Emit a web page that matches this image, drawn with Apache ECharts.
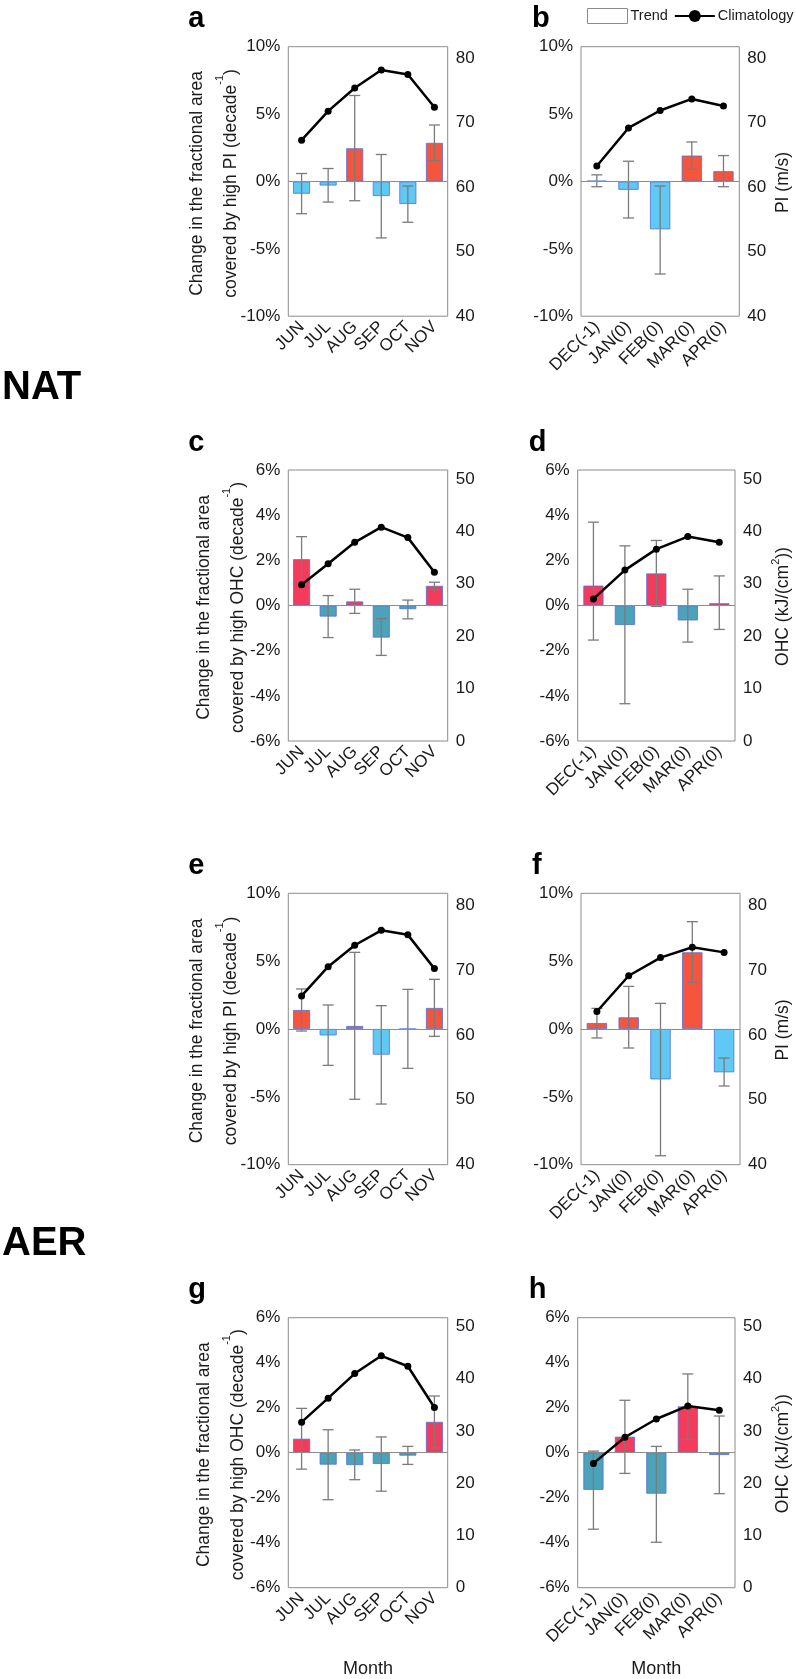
<!DOCTYPE html>
<html><head><meta charset="utf-8">
<script src="https://cdn.jsdelivr.net/npm/echarts@6/dist/echarts.min.js"></script>
<style>html,body{margin:0;padding:0;background:#fff}#c{width:796px;height:1679px}</style>
</head><body><div id="c"></div>
<script>
// ---------- categories ----------
const monthsSummer = ['JUN', 'JUL', 'AUG', 'SEP', 'OCT', 'NOV'];
const monthsWinter = ['DEC(-1)', 'JAN(0)', 'FEB(0)', 'MAR(0)', 'APR(0)'];

// ---------- tick labels ----------
const piTrendTicks = [-10, -5, 0, 5, 10];
const ohcTrendTicks = [-6, -4, -2, 0, 2, 4, 6];
const piClimTicks = [40, 50, 60, 70, 80];
const ohcClimTicks = [0, 10, 20, 30, 40, 50];

// ---------- panel a (NAT, PI, JUN-NOV) ----------
const trendA = [-0.91, -0.30, 2.46, -1.08, -1.67, 2.86];
const lowA   = [-2.39, -1.53, -1.43, -4.19, -3.03, 1.55];
const highA  = [0.59, 0.96, 6.38, 2.00, -0.34, 4.19];
const climA  = [67.3, 71.8, 75.4, 78.2, 77.5, 72.4];
// ---------- panel b (NAT, PI, DEC-APR) ----------
const trendB = [0.05, -0.62, -3.55, 1.92, 0.76];
const lowB   = [-0.39, -2.71, -6.87, 0.91, -0.39];
const highB  = [0.49, 1.50, -0.34, 2.93, 1.92];
const climB  = [63.3, 69.2, 71.9, 73.7, 72.6];
// ---------- panel c (NAT, OHC, JUN-NOV) ----------
const trendC = [2.05, -0.49, 0.18, -1.42, -0.16, 0.87];
const lowC   = [1.05, -1.42, -0.35, -2.21, -0.59, 0.69];
const highC  = [3.05, 0.44, 0.72, -0.58, 0.24, 1.03];
const climC  = [29.8, 33.8, 37.9, 40.8, 38.8, 32.2];
// ---------- panel d (NAT, OHC, DEC-APR) ----------
const trendD = [0.88, -0.86, 1.42, -0.66, 0.10];
const lowD   = [-1.53, -4.35, -0.04, -1.62, -1.06];
const highD  = [3.69, 2.64, 2.88, 0.72, 1.31];
const climD  = [27.1, 32.6, 36.6, 39.0, 37.9];
// ---------- panel e (AER, PI, JUN-NOV) ----------
const trendE = [1.40, -0.47, 0.22, -1.89, 0.00, 1.55];
const lowE   = [-0.15, -2.68, -5.18, -5.53, -2.90, -0.54];
const highE  = [2.95, 1.77, 5.65, 1.72, 2.92, 3.66];
const climE  = [66.0, 70.5, 73.8, 76.1, 75.4, 70.2];
// ---------- panel f (AER, PI, DEC-APR) ----------
const trendF = [0.44, 0.86, -3.71, 5.65, -3.19];
const lowF   = [-0.66, -1.40, -9.34, 3.44, -4.20];
const highF  = [1.52, 3.14, 1.89, 7.91, -2.14];
const climF  = [63.6, 69.1, 71.9, 73.5, 72.7];
// ---------- panel g (AER, OHC, JUN-NOV) ----------
const trendG = [0.62, -0.53, -0.55, -0.50, -0.13, 1.37];
const lowG   = [-0.73, -2.09, -1.20, -1.71, -0.52, 0.22];
const highG  = [1.97, 1.02, 0.12, 0.70, 0.28, 2.52];
const climG  = [31.7, 36.3, 41.0, 44.4, 42.4, 34.5];
// ---------- panel h (AER, OHC, DEC-APR) ----------
const trendH = [-1.65, 0.71, -1.82, 2.06, -0.10];
const lowH   = [-3.40, -0.92, -3.98, 0.59, -1.82];
const highH  = [0.07, 2.33, 0.28, 3.50, 1.63];
const climH  = [23.8, 28.8, 32.3, 34.8, 34.0];

// ---------- styling / layout ----------
const FONT = "'Liberation Sans',Arial,sans-serif";
const TXT = '#1a1a1a';
const FRAME = '#8c8c8c';
const styles = {
  PI:  {pos: '#F5553D', posB: '#B8402E', neg: '#5FC8F3', negB: '#3A8DB3',
        lmin: -10, lmax: 10, lint: 5, rmin: 40, rmax: 81.8, ticksL: piTrendTicks, ticksR: piClimTicks},
  OHC: {pos: '#F53B5C', posB: '#B52B45', neg: '#4CA2B8', negB: '#2F7286',
        lmin: -6, lmax: 6, lint: 2, rmin: 0, rmax: 51.7, ticksL: ohcTrendTicks, ticksR: ohcClimTicks}
};
const panels = [
  {id:'a', cats: monthsSummer, trend: trendA, low: lowA, high: highA, clim: climA, kind:'PI',  grid:{left:288.3, top:46.7,  width:159.4, height:269.5}},
  {id:'b', cats: monthsWinter, trend: trendB, low: lowB, high: highB, clim: climB, kind:'PI',  grid:{left:581,   top:46.7,  width:158.3, height:269.5}},
  {id:'c', cats: monthsSummer, trend: trendC, low: lowC, high: highC, clim: climC, kind:'OHC', grid:{left:288.3, top:470,   width:159.4, height:271}},
  {id:'d', cats: monthsWinter, trend: trendD, low: lowD, high: highD, clim: climD, kind:'OHC', grid:{left:577.7, top:470,   width:157.3, height:271}},
  {id:'e', cats: monthsSummer, trend: trendE, low: lowE, high: highE, clim: climE, kind:'PI',  grid:{left:288.3, top:893.3, width:159.4, height:271.4}},
  {id:'f', cats: monthsWinter, trend: trendF, low: lowF, high: highF, clim: climF, kind:'PI',  grid:{left:581,   top:893.3, width:159,   height:271.4}},
  {id:'g', cats: monthsSummer, trend: trendG, low: lowG, high: highG, clim: climG, kind:'OHC', grid:{left:288.3, top:1317.7,width:159.4, height:270}, xname:'Month'},
  {id:'h', cats: monthsWinter, trend: trendH, low: lowH, high: highH, clim: climH, kind:'OHC', grid:{left:577.7, top:1317.7,width:157.3, height:270}, xname:'Month'}
];

const grid = [], xAxis = [], yAxis = [], series = [], graphic = [];

panels.forEach((p, i) => {
  const st = styles[p.kind];
  grid.push(Object.assign({show: true, borderColor: FRAME, borderWidth: 1, backgroundColor: 'transparent', containLabel: false, outerBoundsMode: 'none'}, p.grid));
  xAxis.push({
    type: 'category', gridIndex: i, data: p.cats, boundaryGap: true,
    axisLine: {show: false}, axisTick: {show: false}, splitLine: {show: false},
    axisLabel: {rotate: 45, interval: 0, margin: 8, color: TXT, fontFamily: FONT, fontSize: 17},
    name: p.xname || '', nameLocation: 'middle', nameGap: 72,
    nameTextStyle: {color: TXT, fontFamily: FONT, fontSize: 18}
  });
  yAxis.push({
    type: 'value', gridIndex: i, min: st.lmin, max: st.lmax, interval: st.lint,
    axisLine: {show: false}, axisTick: {show: false}, splitLine: {show: false},
    axisLabel: {margin: 8, color: TXT, fontFamily: FONT, fontSize: 17,
      formatter: v => st.ticksL.includes(v) ? v + '%' : ''}
  });
  yAxis.push({
    type: 'value', gridIndex: i, position: 'right', min: st.rmin, max: st.rmax, interval: 10,
    axisLine: {show: false}, axisTick: {show: false}, splitLine: {show: false},
    axisLabel: {margin: 8, color: TXT, fontFamily: FONT, fontSize: 17,
      formatter: v => st.ticksR.includes(Math.round(v * 1000) / 1000) ? String(v) : ''}
  });
  series.push({
    name: 'Trend', type: 'bar', xAxisIndex: i, yAxisIndex: 2 * i, data: p.trend,
    barWidth: '64%', z: 2,
    itemStyle: {
      color: prm => prm.value >= 0 ? st.pos : st.neg,
      borderColor: prm => prm.value >= 0 ? st.posB : st.negB,
      borderWidth: 0.8
    },
    markLine: {silent: true, symbol: 'none', label: {show: false}, animation: false,
      lineStyle: {color: FRAME, width: 1.2, type: 'solid'}, data: [{yAxis: 0}]}
  });
  series.push({
    name: 'err' + p.id, type: 'custom', xAxisIndex: i, yAxisIndex: 2 * i, z: 3,
    data: p.cats.map((c, j) => [j, p.low[j], p.high[j]]),
    encode: {x: 0, y: [1, 2]},
    renderItem: (params, api) => {
      const x = api.value(0);
      const lo = api.coord([x, api.value(1)]);
      const hi = api.coord([x, api.value(2)]);
      const w = 5.5;
      const ls = {stroke: '#7b7b7b', lineWidth: 1.3};
      return {type: 'group', children: [
        {type: 'line', shape: {x1: lo[0], y1: lo[1], x2: hi[0], y2: hi[1]}, style: ls},
        {type: 'line', shape: {x1: lo[0] - w, y1: lo[1], x2: lo[0] + w, y2: lo[1]}, style: ls},
        {type: 'line', shape: {x1: hi[0] - w, y1: hi[1], x2: hi[0] + w, y2: hi[1]}, style: ls}
      ]};
    }
  });
  series.push({
    name: 'Climatology', type: 'line', xAxisIndex: i, yAxisIndex: 2 * i + 1, data: p.clim, z: 5,
    symbol: 'circle', symbolSize: 7, color: '#000',
    lineStyle: {color: '#000', width: 2.5}, itemStyle: {color: '#000'}
  });
  // panel letter
  const lx = (i % 2 === 0) ? p.grid.left - 100 : p.grid.left - 49;
  graphic.push({type: 'text', x: lx, y: p.grid.top - 13,
    style: {text: p.id, font: "bold 29px " + FONT, fill: '#000', align: 'left', verticalAlign: 'bottom'}});
  const cy = p.grid.top + p.grid.height / 2;
  if (i % 2 === 0) {
    const what = p.kind === 'PI' ? 'PI' : 'OHC';
    graphic.push({type: 'text', x: p.kind === 'PI' ? 214 : 221, y: cy + 2, rotation: Math.PI / 2,
      style: {text: '{n|Change in the fractional area}\n{n|covered by high ' + what + ' (decade}{s|-1}{n|)}',
        align: 'center', verticalAlign: 'middle', fill: TXT,
        rich: {n: {fontFamily: FONT, fontSize: 17.5, lineHeight: 34, fill: TXT},
               s: {fontFamily: FONT, fontSize: 11, lineHeight: 20, verticalAlign: 'top', fill: TXT}}}});
  } else {
    const txt = p.kind === 'PI' ? '{n|PI (m/s)}' : '{n|OHC (kJ/(cm}{s|2}{n|))}';
    graphic.push({type: 'text', x: 783, y: cy + 1, rotation: Math.PI / 2,
      style: {text: txt, align: 'center', verticalAlign: 'middle', fill: TXT,
        rich: {n: {fontFamily: FONT, fontSize: 17.5, lineHeight: 26, fill: TXT},
               s: {fontFamily: FONT, fontSize: 11, lineHeight: 16, verticalAlign: 'top', fill: TXT}}}});
  }
});

graphic.push({type: 'text', x: 2, y: 388, style: {text: 'NAT', font: "bold 40px " + FONT, fill: '#000', align: 'left', verticalAlign: 'middle'}});
graphic.push({type: 'text', x: 2, y: 1244, style: {text: 'AER', font: "bold 40px " + FONT, fill: '#000', align: 'left', verticalAlign: 'middle'}});

const chart = echarts.init(document.getElementById('c'), null, {renderer: 'canvas'});
chart.setOption({
  animation: false,
  backgroundColor: '#fff',
  legend: {
    left: 582, top: 3, width: 300, orient: 'horizontal', itemWidth: 40, itemHeight: 15, itemGap: 6, selectedMode: false,
    textStyle: {color: TXT, fontFamily: FONT, fontSize: 14.5, padding: [0, 0, 0, -2]},
    data: [
      {name: 'Trend', icon: 'rect', itemStyle: {color: '#fff', borderColor: FRAME, borderWidth: 1}},
      {name: 'Climatology'}
    ]
  },
  grid, xAxis, yAxis, series, graphic
});
</script></body></html>
